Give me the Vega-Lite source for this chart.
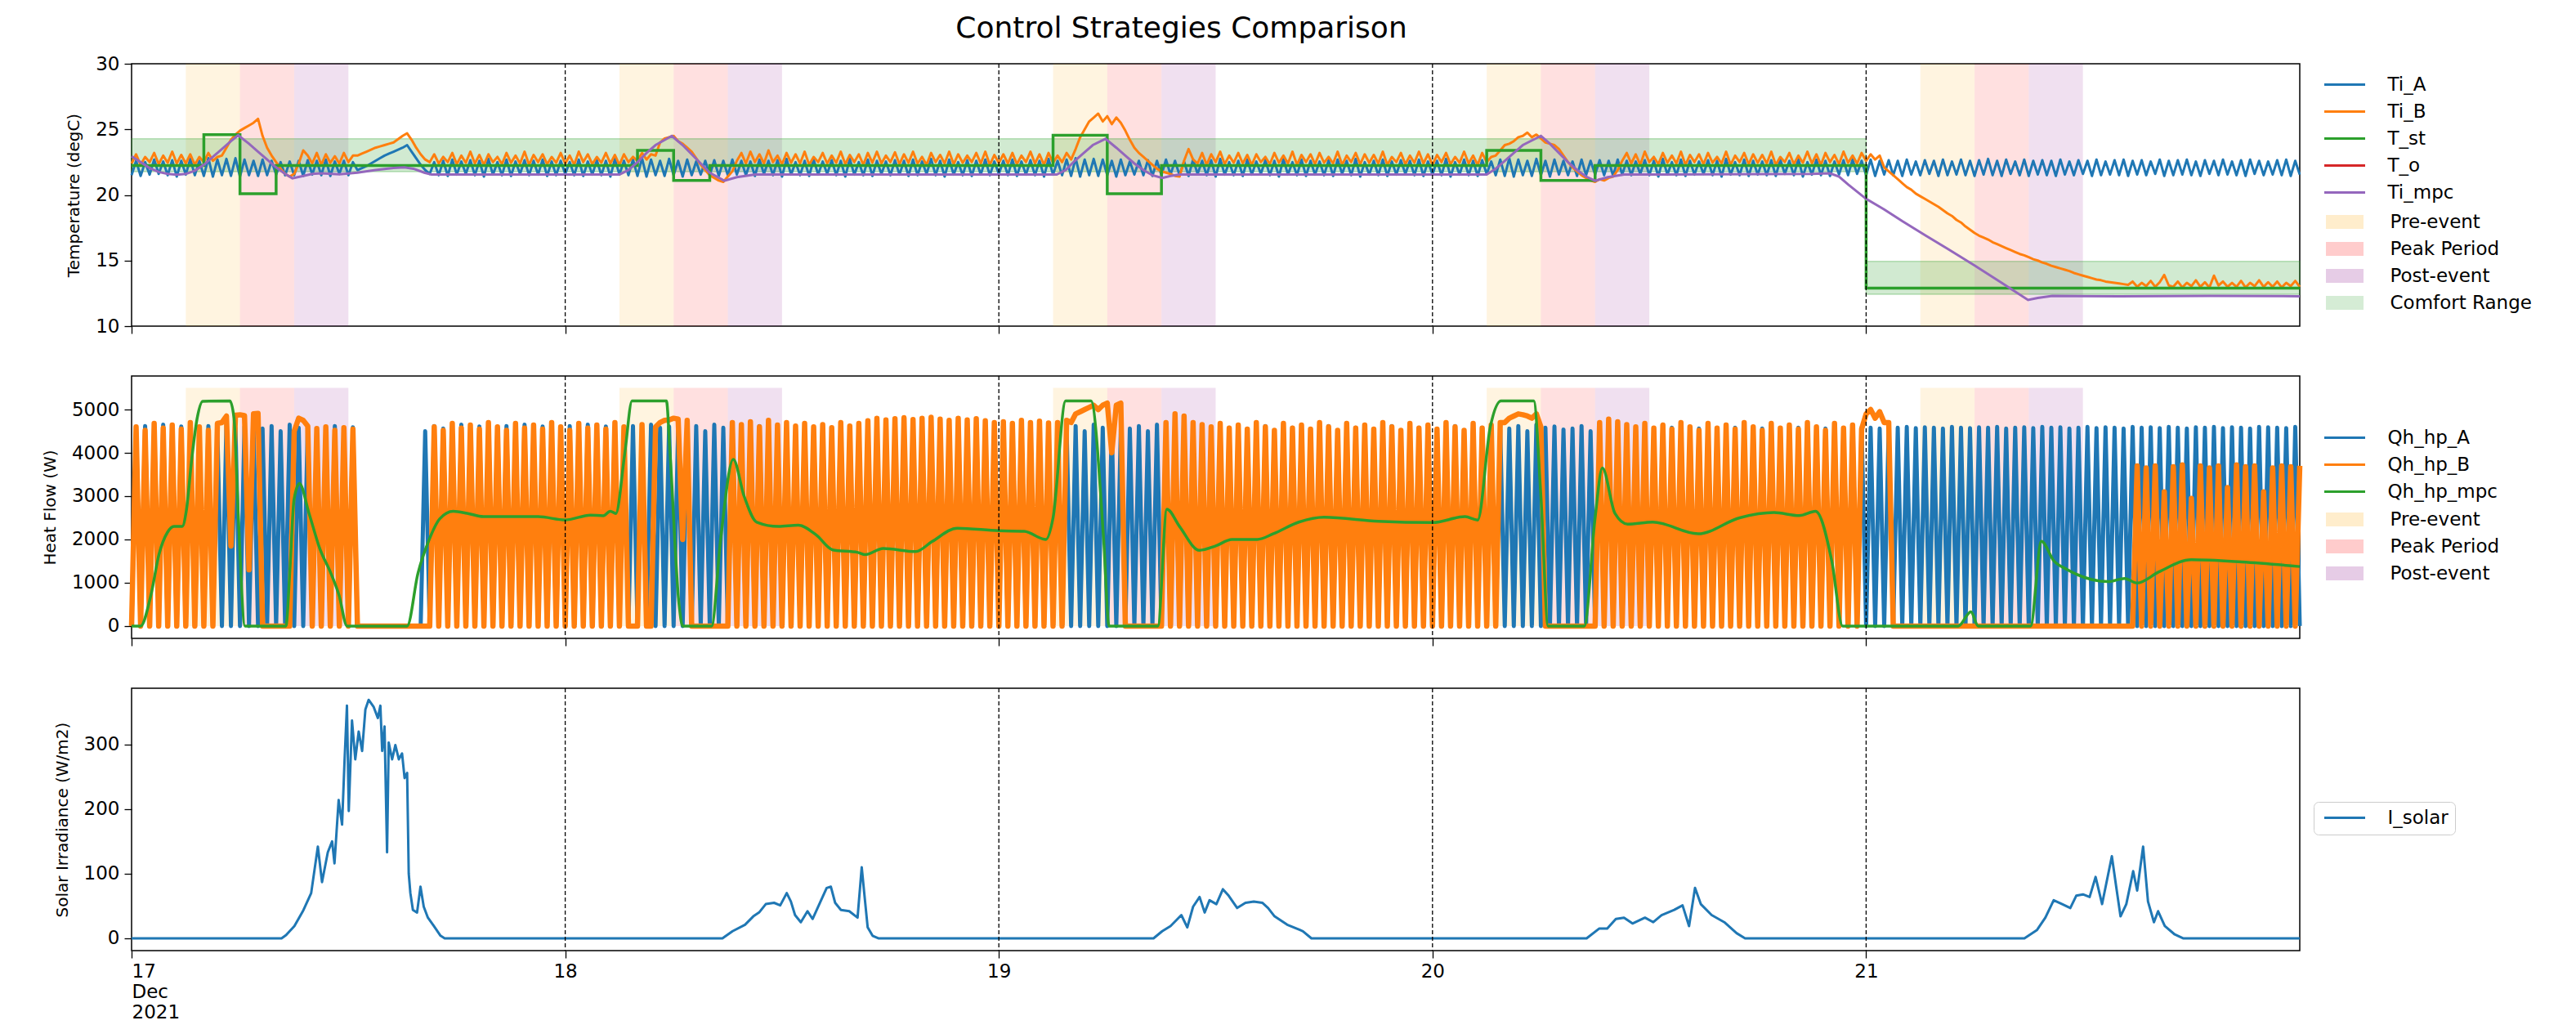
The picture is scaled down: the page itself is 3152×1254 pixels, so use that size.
{
"$schema":"https://vega.github.io/schema/vega-lite/v6.json",
"background":"white",
"padding":{"left":50,"top":16,"right":5,"bottom":5},
"spacing":61,
"bounds":"flush",
"resolve":{"scale":{"color":"independent","fill":"independent","stroke":"independent","x":"independent","y":"independent"},"legend":{"color":"independent","fill":"independent","stroke":"independent"}},
"config":{
"font":"DejaVu Sans",
"view":{"stroke":"black","strokeWidth":1.5},
"axis":{"grid":false,"domain":false,"tickColor":"black","tickSize":9,"tickWidth":1.3,"labelColor":"black","labelFont":"DejaVu Sans","labelFontSize":23,"labelPadding":6,"titleColor":"black","titleFont":"DejaVu Sans","titleFontSize":20,"titleFontWeight":"normal","titlePadding":16},
"legend":{"labelFont":"DejaVu Sans","labelFontSize":23,"labelColor":"black","labelLimit":500,"symbolSize":100,"symbolOffset":18.5,"labelOffset":41,"rowPadding":9,"padding":8}
},
"datasets":{
"days":[{"h":24},{"h":48},{"h":72},{"h":96}],
"ev":[{"s":"Pre-event","x0":3,"x1":6},{"s":"Peak Period","x0":6,"x1":9},{"s":"Post-event","x0":9,"x1":12},{"s":"Pre-event","x0":27,"x1":30},{"s":"Peak Period","x0":30,"x1":33},{"s":"Post-event","x0":33,"x1":36},{"s":"Pre-event","x0":51,"x1":54},{"s":"Peak Period","x0":54,"x1":57},{"s":"Post-event","x0":57,"x1":60},{"s":"Pre-event","x0":75,"x1":78},{"s":"Peak Period","x0":78,"x1":81},{"s":"Post-event","x0":81,"x1":84},{"s":"Pre-event","x0":99,"x1":102},{"s":"Peak Period","x0":102,"x1":105},{"s":"Post-event","x0":105,"x1":108}],
"cf":[{"x0":0,"x1":96,"lo":21.78,"hi":24.28},{"x0":96,"x1":120,"lo":12.43,"hi":14.93}],
"tst":[{"h":0,"v":22.25},{"h":4,"v":24.6},{"h":6,"v":20.1},{"h":8,"v":22.25},{"h":28,"v":23.4},{"h":30,"v":21.1},{"h":32,"v":22.25},{"h":51,"v":24.55},{"h":54,"v":20.1},{"h":57,"v":22.25},{"h":75,"v":23.4},{"h":78,"v":21.1},{"h":81,"v":22.25},{"h":96,"v":12.9},{"h":120,"v":12.9}],
"to":[{"h":0,"v":4.5},{"h":12,"v":6.5},{"h":24,"v":3.5},{"h":36,"v":5.5},{"h":48,"v":4},{"h":60,"v":6},{"h":72,"v":2.5},{"h":84,"v":4.5},{"h":96,"v":1.5},{"h":108,"v":3.5},{"h":120,"v":2}],
"mpc":[{"h":0,"v":22.95},{"h":0.5,"v":22.5},{"h":1,"v":22.05},{"h":1.5,"v":21.75},{"h":2,"v":21.6},{"h":2.5,"v":21.55},{"h":3,"v":21.6},{"h":3.5,"v":21.85},{"h":4,"v":22.3},{"h":4.5,"v":22.9},{"h":5,"v":23.5},{"h":5.5,"v":24.1},{"h":5.9,"v":24.55},{"h":6.5,"v":23.9},{"h":7,"v":23.3},{"h":7.5,"v":22.7},{"h":8,"v":22.1},{"h":8.5,"v":21.6},{"h":8.9,"v":21.27},{"h":9.5,"v":21.45},{"h":10,"v":21.6},{"h":10.5,"v":21.65},{"h":11.5,"v":21.58},{"h":12.5,"v":21.7},{"h":13.5,"v":21.9},{"h":14.5,"v":22.05},{"h":15.1,"v":22.1},{"h":15.6,"v":22},{"h":16.2,"v":21.7},{"h":16.6,"v":21.55},{"h":27,"v":21.55},{"h":27.5,"v":21.9},{"h":28,"v":22.5},{"h":28.5,"v":23.2},{"h":29,"v":23.8},{"h":29.9,"v":24.5},{"h":30.5,"v":23.8},{"h":31,"v":23.1},{"h":31.5,"v":22.4},{"h":32,"v":21.7},{"h":32.8,"v":21.08},{"h":33.5,"v":21.35},{"h":34.5,"v":21.55},{"h":51.2,"v":21.55},{"h":51.7,"v":21.9},{"h":52.2,"v":22.6},{"h":52.7,"v":23.2},{"h":53.2,"v":23.8},{"h":53.9,"v":24.28},{"h":54.5,"v":23.6},{"h":55,"v":23},{"h":55.5,"v":22.4},{"h":56,"v":21.9},{"h":56.5,"v":21.5},{"h":57.05,"v":21.3},{"h":57.5,"v":21.45},{"h":58,"v":21.55},{"h":75,"v":21.55},{"h":75.5,"v":22},{"h":76,"v":22.6},{"h":76.5,"v":23.2},{"h":77,"v":23.8},{"h":78,"v":24.5},{"h":78.5,"v":23.9},{"h":79,"v":23.2},{"h":79.5,"v":22.5},{"h":80,"v":21.9},{"h":80.5,"v":21.4},{"h":81,"v":21.08},{"h":81.7,"v":21.35},{"h":82.6,"v":21.55},{"h":93,"v":21.6},{"h":94,"v":21.65},{"h":94.5,"v":21.4},{"h":95,"v":20.8},{"h":96,"v":19.7},{"h":97,"v":18.9},{"h":98,"v":18},{"h":99.3,"v":16.9},{"h":100.5,"v":15.9},{"h":102,"v":14.62},{"h":103.5,"v":13.3},{"h":104.96,"v":12},{"h":105.5,"v":12.15},{"h":106.3,"v":12.3},{"h":110,"v":12.28},{"h":115,"v":12.3},{"h":120,"v":12.28}],
"mq":[{"h":0,"v":0},{"h":0.5,"v":0},{"h":1.07,"v":715},{"h":1.52,"v":1660},{"h":1.98,"v":2160},{"h":2.35,"v":2300},{"h":2.8,"v":2300},{"h":3.03,"v":2666},{"h":3.33,"v":3860},{"h":3.63,"v":4800},{"h":3.94,"v":5190},{"h":5.44,"v":5200},{"h":5.67,"v":4800},{"h":5.9,"v":2600},{"h":6.28,"v":0},{"h":8.54,"v":0},{"h":8.77,"v":1345},{"h":8.99,"v":2917},{"h":9.29,"v":3294},{"h":9.82,"v":2605},{"h":10.42,"v":1785},{"h":11.03,"v":1219},{"h":11.48,"v":715},{"h":11.93,"v":0},{"h":15.25,"v":0},{"h":15.85,"v":1219},{"h":16.45,"v":1974},{"h":17.06,"v":2477},{"h":17.8,"v":2650},{"h":18.57,"v":2605},{"h":19.47,"v":2526},{"h":22.5,"v":2526},{"h":24,"v":2450},{"h":25.4,"v":2563},{"h":26.1,"v":2545},{"h":26.5,"v":2650},{"h":26.8,"v":2600},{"h":27.3,"v":4000},{"h":27.7,"v":5200},{"h":29.6,"v":5200},{"h":29.8,"v":4000},{"h":30.3,"v":500},{"h":30.5,"v":0},{"h":32.1,"v":0},{"h":32.6,"v":2000},{"h":33.3,"v":3850},{"h":33.9,"v":3000},{"h":34.6,"v":2400},{"h":35.8,"v":2300},{"h":36.9,"v":2330},{"h":37.9,"v":2100},{"h":38.8,"v":1760},{"h":40.2,"v":1700},{"h":40.6,"v":1650},{"h":41.6,"v":1790},{"h":43.4,"v":1720},{"h":44.3,"v":1950},{"h":45.7,"v":2260},{"h":48,"v":2200},{"h":49.4,"v":2190},{"h":50.6,"v":2000},{"h":51,"v":2500},{"h":51.7,"v":5200},{"h":53.1,"v":5200},{"h":53.8,"v":2000},{"h":54.1,"v":0},{"h":56.8,"v":0},{"h":57.3,"v":2700},{"h":58,"v":2300},{"h":59.1,"v":1750},{"h":60,"v":1850},{"h":60.9,"v":2000},{"h":62.3,"v":2000},{"h":63.2,"v":2133},{"h":64.6,"v":2400},{"h":66,"v":2513},{"h":69,"v":2420},{"h":72,"v":2390},{"h":73.8,"v":2526},{"h":74.5,"v":2450},{"h":75.2,"v":4600},{"h":75.8,"v":5200},{"h":77.6,"v":5200},{"h":78,"v":3000},{"h":78.4,"v":0},{"h":80.4,"v":0},{"h":81,"v":2500},{"h":81.4,"v":3650},{"h":82.1,"v":2600},{"h":82.8,"v":2355},{"h":84.2,"v":2400},{"h":86.7,"v":2130},{"h":89,"v":2500},{"h":90.9,"v":2620},{"h":92.3,"v":2550},{"h":93.2,"v":2650},{"h":94.1,"v":1500},{"h":94.7,"v":0},{"h":101.1,"v":0},{"h":101.8,"v":330},{"h":102.2,"v":0},{"h":105.1,"v":0},{"h":105.7,"v":1956},{"h":106.4,"v":1500},{"h":107.1,"v":1310},{"h":109.4,"v":1025},{"h":110.3,"v":1100},{"h":111,"v":994},{"h":112.2,"v":1250},{"h":114,"v":1532},{"h":116.8,"v":1480},{"h":120,"v":1374}],
"sol":[{"h":0,"v":0},{"h":8.3,"v":0},{"h":8.55,"v":5},{"h":9.01,"v":19},{"h":9.48,"v":42},{"h":9.94,"v":70},{"h":10.31,"v":142},{"h":10.54,"v":87},{"h":10.86,"v":133},{"h":11.1,"v":150},{"h":11.23,"v":116},{"h":11.46,"v":214},{"h":11.65,"v":176},{"h":11.79,"v":277},{"h":11.92,"v":360},{"h":12.02,"v":197},{"h":12.2,"v":337},{"h":12.38,"v":277},{"h":12.57,"v":320},{"h":12.76,"v":290},{"h":12.94,"v":354},{"h":13.12,"v":369},{"h":13.4,"v":358},{"h":13.63,"v":341},{"h":13.77,"v":360},{"h":13.87,"v":290},{"h":14,"v":328},{"h":14.14,"v":133},{"h":14.23,"v":303},{"h":14.42,"v":277},{"h":14.6,"v":299},{"h":14.79,"v":277},{"h":14.97,"v":286},{"h":15.11,"v":248},{"h":15.25,"v":256},{"h":15.34,"v":100},{"h":15.43,"v":70},{"h":15.57,"v":44},{"h":15.8,"v":40},{"h":15.99,"v":80},{"h":16.17,"v":49},{"h":16.4,"v":32},{"h":16.73,"v":19},{"h":17.1,"v":4},{"h":17.33,"v":0},{"h":32.7,"v":0},{"h":33.26,"v":11},{"h":33.95,"v":21},{"h":34.41,"v":34},{"h":34.73,"v":40},{"h":35.1,"v":53},{"h":35.56,"v":55},{"h":35.9,"v":51},{"h":36.26,"v":70},{"h":36.49,"v":57},{"h":36.72,"v":36},{"h":37.04,"v":25},{"h":37.41,"v":42},{"h":37.69,"v":30},{"h":38.1,"v":55},{"h":38.47,"v":78},{"h":38.7,"v":80},{"h":38.94,"v":55},{"h":39.26,"v":44},{"h":39.72,"v":42},{"h":40.18,"v":32},{"h":40.41,"v":110},{"h":40.55,"v":70},{"h":40.74,"v":17},{"h":41.01,"v":4},{"h":41.33,"v":0},{"h":56.56,"v":0},{"h":57.04,"v":11},{"h":57.5,"v":19},{"h":58.1,"v":36},{"h":58.43,"v":17},{"h":58.75,"v":49},{"h":59.11,"v":64},{"h":59.39,"v":40},{"h":59.66,"v":59},{"h":60.04,"v":53},{"h":60.4,"v":76},{"h":60.72,"v":66},{"h":61.19,"v":47},{"h":61.65,"v":55},{"h":62.11,"v":57},{"h":62.58,"v":55},{"h":62.9,"v":47},{"h":63.26,"v":34},{"h":63.96,"v":21},{"h":64.66,"v":13},{"h":64.83,"v":11},{"h":65.3,"v":0},{"h":80.53,"v":0},{"h":81.22,"v":15},{"h":81.67,"v":15},{"h":82.15,"v":30},{"h":82.6,"v":32},{"h":83.07,"v":23},{"h":83.76,"v":32},{"h":84.22,"v":25},{"h":84.68,"v":36},{"h":85.38,"v":44},{"h":85.84,"v":51},{"h":86.2,"v":19},{"h":86.53,"v":78},{"h":86.85,"v":53},{"h":87.45,"v":36},{"h":88.15,"v":25},{"h":88.83,"v":8},{"h":89.3,"v":0},{"h":104.76,"v":0},{"h":105.46,"v":13},{"h":105.92,"v":32},{"h":106.38,"v":59},{"h":106.85,"v":53},{"h":107.3,"v":47},{"h":107.63,"v":66},{"h":108,"v":68},{"h":108.37,"v":64},{"h":108.7,"v":95},{"h":109.06,"v":53},{"h":109.6,"v":127},{"h":109.85,"v":78},{"h":110.08,"v":34},{"h":110.4,"v":53},{"h":110.78,"v":104},{"h":111,"v":74},{"h":111.33,"v":142},{"h":111.6,"v":57},{"h":111.93,"v":25},{"h":112.16,"v":42},{"h":112.53,"v":19},{"h":113.08,"v":6},{"h":113.54,"v":0},{"h":120,"v":0}],
"main":[
{"h":0,"a":21.5,"b":22.4,"qa":0,"qb":0},{"h":0.25,"a":22.6,"b":23.1,"qa":4560,"qb":4600},{"h":0.5,"a":21.45,"b":22.3,"qa":0,"qb":0},{"h":0.75,"a":22.5,"b":22.9,"qa":4620,"qb":4520},{"h":1,"a":21.55,"b":22.5,"qa":0,"qb":0},{"h":1.25,"a":22.7,"b":23.2,"qa":4500,"qb":4680},{"h":1.5,"a":21.6,"b":22.35,"qa":0,"qb":0},{"h":1.75,"a":22.55,"b":23,"qa":4650,"qb":4570},{"h":2,"a":21.5,"b":22.45,"qa":0,"qb":0},{"h":2.25,"a":22.65,"b":23.3,"qa":4580,"qb":4640},{"h":2.5,"a":21.4,"b":22.4,"qa":0,"qb":0},{"h":2.75,"a":22.6,"b":23.05,"qa":4610,"qb":4550},
{"h":3,"a":21.55,"b":22.4,"qa":0,"qb":0},{"h":3.25,"a":22.75,"b":23.1,"qa":4540,"qb":4700},{"h":3.5,"a":21.5,"b":22.3,"qa":0,"qb":0},{"h":3.75,"a":22.6,"b":22.9,"qa":4560,"qb":4600},{"h":4,"a":21.45,"b":22.5,"qa":0,"qb":0},{"h":4.25,"a":22.8,"b":23.2,"qa":4620,"qb":4520},{"h":4.5,"a":21.4,"b":22.6,"qa":0,"qb":0},{"h":4.75,"a":22.7,"b":22.9,"qa":4500,"qb":4680},{"h":5,"a":21.5,"b":23,"qa":0,"qb":4700},{"h":5.25,"a":22.75,"b":23.6,"qa":4650,"qb":4850},{"h":5.5,"a":21.45,"b":24.2,"qa":0,"qb":1850},{"h":5.75,"a":22.8,"b":24.6,"qa":4580,"qb":4870},
{"h":6,"a":21.4,"b":24.9,"qa":0,"qb":4880},{"h":6.25,"a":22.7,"b":25.1,"qa":4610,"qb":4860},{"h":6.5,"a":21.5,"b":25.3,"qa":0,"qb":1300},{"h":6.75,"a":22.6,"b":25.5,"qa":4540,"qb":4900},{"h":7,"a":21.45,"b":25.8,"qa":0,"qb":4910},{"h":7.25,"a":22.7,"b":24.5,"qa":4560,"qb":0},{"h":7.5,"a":21.5,"b":23.6,"qa":0,"qb":0},{"h":7.75,"a":22.6,"b":23,"qa":4620,"qb":0},{"h":8,"a":21.55,"b":22.5,"qa":0,"qb":0},{"h":8.25,"a":22.5,"b":22,"qa":4500,"qb":0},{"h":8.5,"a":21.5,"b":21.6,"qa":0,"qb":0},{"h":8.75,"a":22.55,"b":21.4,"qa":4650,"qb":0},
{"h":9,"a":21.5,"b":21.6,"qa":0,"qb":4500},{"h":9.25,"a":22.6,"b":22.4,"qa":4580,"qb":4800},{"h":9.5,"a":21.45,"b":23.4,"qa":0,"qb":4750},{"h":9.75,"a":22.65,"b":23,"qa":4610,"qb":4620},{"h":10,"a":21.55,"b":22.4,"qa":0,"qb":0},{"h":10.25,"a":22.6,"b":23.2,"qa":4540,"qb":4560},{"h":10.5,"a":21.5,"b":22.3,"qa":0,"qb":0},{"h":10.75,"a":22.7,"b":23.1,"qa":4560,"qb":4600},{"h":11,"a":21.45,"b":22.45,"qa":0,"qb":0},{"h":11.25,"a":22.55,"b":22.95,"qa":4620,"qb":4520},{"h":11.5,"a":21.6,"b":22.4,"qa":0,"qb":0},{"h":11.75,"a":22.6,"b":23.2,"qa":4500,"qb":4580},
{"h":12,"a":21.5,"b":22.5,"qa":0,"qb":0},{"h":12.25,"a":22.5,"b":23,"qa":4590,"qb":4550},{"h":12.5,"a":21.9,"b":23,"qa":0,"qb":0},{"h":12.75,"a":22.05,"b":23.15,"qa":0,"qb":0},{"h":13,"a":22.2,"b":23.3,"qa":0,"qb":0},{"h":13.25,"a":22.4,"b":23.45,"qa":0,"qb":0},{"h":13.5,"a":22.6,"b":23.6,"qa":0,"qb":0},{"h":13.75,"a":22.8,"b":23.7,"qa":0,"qb":0},{"h":14,"a":23,"b":23.8,"qa":0,"qb":0},{"h":14.25,"a":23.15,"b":23.9,"qa":0,"qb":0},{"h":14.5,"a":23.3,"b":24,"qa":0,"qb":0},{"h":14.75,"a":23.45,"b":24.25,"qa":0,"qb":0},
{"h":15,"a":23.6,"b":24.5,"qa":0,"qb":0},{"h":15.25,"a":23.8,"b":24.7,"qa":0,"qb":0},{"h":15.5,"a":23.3,"b":24.2,"qa":0,"qb":0},{"h":15.75,"a":22.8,"b":23.6,"qa":0,"qb":0},{"h":16,"a":22.3,"b":23.1,"qa":0,"qb":0},{"h":16.25,"a":21.9,"b":22.7,"qa":4500,"qb":0},{"h":16.5,"a":21.6,"b":22.5,"qa":0,"qb":0},{"h":16.75,"a":22.5,"b":23.1,"qa":4620,"qb":4600},{"h":17,"a":21.5,"b":22.4,"qa":0,"qb":0},{"h":17.25,"a":22.6,"b":22.9,"qa":4560,"qb":4520},{"h":17.5,"a":21.45,"b":22.5,"qa":0,"qb":0},{"h":17.75,"a":22.7,"b":23.2,"qa":4500,"qb":4680},
{"h":18,"a":21.55,"b":22.35,"qa":0,"qb":0},{"h":18.25,"a":22.55,"b":23,"qa":4650,"qb":4570},{"h":18.5,"a":21.6,"b":22.45,"qa":0,"qb":0},{"h":18.75,"a":22.65,"b":23.3,"qa":4580,"qb":4640},{"h":19,"a":21.5,"b":22.4,"qa":0,"qb":0},{"h":19.25,"a":22.6,"b":23.05,"qa":4610,"qb":4550},{"h":19.5,"a":21.4,"b":22.3,"qa":0,"qb":0},{"h":19.75,"a":22.75,"b":23.1,"qa":4540,"qb":4700},{"h":20,"a":21.55,"b":22.5,"qa":0,"qb":0},{"h":20.25,"a":22.5,"b":22.9,"qa":4560,"qb":4600},{"h":20.5,"a":21.5,"b":22.35,"qa":0,"qb":0},{"h":20.75,"a":22.7,"b":23.2,"qa":4620,"qb":4520},
{"h":21,"a":21.45,"b":22.45,"qa":0,"qb":0},{"h":21.25,"a":22.55,"b":23,"qa":4500,"qb":4680},{"h":21.5,"a":21.6,"b":22.4,"qa":0,"qb":0},{"h":21.75,"a":22.65,"b":23.3,"qa":4650,"qb":4570},{"h":22,"a":21.5,"b":22.3,"qa":0,"qb":0},{"h":22.25,"a":22.6,"b":23.05,"qa":4580,"qb":4640},{"h":22.5,"a":21.55,"b":22.5,"qa":0,"qb":0},{"h":22.75,"a":22.7,"b":23.1,"qa":4610,"qb":4550},{"h":23,"a":21.45,"b":22.35,"qa":0,"qb":0},{"h":23.25,"a":22.55,"b":22.9,"qa":4540,"qb":4700},{"h":23.5,"a":21.5,"b":22.45,"qa":0,"qb":0},{"h":23.75,"a":22.6,"b":23.2,"qa":4560,"qb":4600},
{"h":24,"a":21.6,"b":22.4,"qa":0,"qb":0},{"h":24.25,"a":22.5,"b":23,"qa":4620,"qb":4520},{"h":24.5,"a":21.5,"b":22.3,"qa":0,"qb":0},{"h":24.75,"a":22.7,"b":23.3,"qa":4500,"qb":4680},{"h":25,"a":21.45,"b":22.5,"qa":0,"qb":0},{"h":25.25,"a":22.55,"b":23.1,"qa":4650,"qb":4570},{"h":25.5,"a":21.55,"b":22.35,"qa":0,"qb":0},{"h":25.75,"a":22.65,"b":22.9,"qa":4580,"qb":4640},{"h":26,"a":21.5,"b":22.45,"qa":0,"qb":0},{"h":26.25,"a":22.6,"b":23.2,"qa":4610,"qb":4550},{"h":26.5,"a":21.4,"b":22.4,"qa":0,"qb":0},{"h":26.75,"a":22.75,"b":23.05,"qa":4540,"qb":4700},
{"h":27,"a":21.55,"b":22.3,"qa":0,"qb":0},{"h":27.25,"a":22.6,"b":23.1,"qa":4560,"qb":4600},{"h":27.5,"a":21.5,"b":22.5,"qa":0,"qb":0},{"h":27.75,"a":22.7,"b":22.9,"qa":4620,"qb":0},{"h":28,"a":21.45,"b":22.6,"qa":0,"qb":0},{"h":28.25,"a":22.8,"b":23.2,"qa":4500,"qb":4650},{"h":28.5,"a":21.4,"b":22.7,"qa":0,"qb":0},{"h":28.75,"a":22.7,"b":23.1,"qa":4650,"qb":0},{"h":29,"a":21.5,"b":23,"qa":0,"qb":4600},{"h":29.25,"a":22.6,"b":24,"qa":4580,"qb":4700},{"h":29.5,"a":21.45,"b":24.3,"qa":0,"qb":4750},{"h":29.75,"a":22.75,"b":24.4,"qa":4610,"qb":4760},
{"h":30,"a":21.5,"b":24.5,"qa":0,"qb":4800},{"h":30.25,"a":22.6,"b":24.1,"qa":4540,"qb":4780},{"h":30.5,"a":21.4,"b":23.9,"qa":0,"qb":2000},{"h":30.75,"a":22.7,"b":23.6,"qa":4560,"qb":4750},{"h":31,"a":21.5,"b":23.3,"qa":0,"qb":0},{"h":31.25,"a":22.55,"b":22.8,"qa":4620,"qb":0},{"h":31.5,"a":21.55,"b":22.3,"qa":0,"qb":0},{"h":31.75,"a":22.6,"b":21.9,"qa":4500,"qb":0},{"h":32,"a":21.5,"b":21.5,"qa":0,"qb":0},{"h":32.25,"a":22.65,"b":21.3,"qa":4650,"qb":0},{"h":32.5,"a":21.45,"b":21.1,"qa":0,"qb":0},{"h":32.75,"a":22.6,"b":21,"qa":4580,"qb":0},
{"h":33,"a":21.5,"b":21.4,"qa":0,"qb":0},{"h":33.25,"a":22.7,"b":21.8,"qa":4610,"qb":4700},{"h":33.5,"a":21.55,"b":22.6,"qa":0,"qb":0},{"h":33.75,"a":22.6,"b":23.2,"qa":4540,"qb":4650},{"h":34,"a":21.5,"b":22.4,"qa":0,"qb":0},{"h":34.25,"a":22.55,"b":23.3,"qa":4560,"qb":4720},{"h":34.5,"a":21.45,"b":22.5,"qa":0,"qb":0},{"h":34.75,"a":22.7,"b":23.1,"qa":4620,"qb":4600},{"h":35,"a":21.6,"b":22.4,"qa":0,"qb":0},{"h":35.25,"a":22.6,"b":23.4,"qa":4500,"qb":4750},{"h":35.5,"a":21.5,"b":22.5,"qa":0,"qb":0},{"h":35.75,"a":22.65,"b":23,"qa":4650,"qb":4640},
{"h":36,"a":21.4,"b":22.35,"qa":0,"qb":0},{"h":36.25,"a":22.75,"b":23.2,"qa":4580,"qb":4700},{"h":36.5,"a":21.55,"b":22.45,"qa":0,"qb":0},{"h":36.75,"a":22.5,"b":23.1,"qa":4610,"qb":4620},{"h":37,"a":21.5,"b":22.4,"qa":0,"qb":0},{"h":37.25,"a":22.6,"b":23.3,"qa":4540,"qb":4680},{"h":37.5,"a":21.45,"b":22.3,"qa":0,"qb":0},{"h":37.75,"a":22.7,"b":22.9,"qa":4560,"qb":4600},{"h":38,"a":21.55,"b":22.5,"qa":0,"qb":0},{"h":38.25,"a":22.55,"b":23.2,"qa":4620,"qb":4650},{"h":38.5,"a":21.6,"b":22.4,"qa":0,"qb":0},{"h":38.75,"a":22.65,"b":23,"qa":4500,"qb":4580},
{"h":39,"a":21.5,"b":22.45,"qa":0,"qb":0},{"h":39.25,"a":22.6,"b":23.3,"qa":4650,"qb":4700},{"h":39.5,"a":21.4,"b":22.35,"qa":0,"qb":0},{"h":39.75,"a":22.75,"b":23.05,"qa":4580,"qb":4620},{"h":40,"a":21.55,"b":22.5,"qa":0,"qb":0},{"h":40.25,"a":22.5,"b":23.1,"qa":4610,"qb":4680},{"h":40.5,"a":21.5,"b":22.3,"qa":0,"qb":0},{"h":40.75,"a":22.7,"b":23.2,"qa":4540,"qb":4740},{"h":41,"a":21.45,"b":22.45,"qa":0,"qb":0},{"h":41.25,"a":22.6,"b":23.3,"qa":4560,"qb":4800},{"h":41.5,"a":21.6,"b":22.4,"qa":0,"qb":0},{"h":41.75,"a":22.55,"b":23,"qa":4620,"qb":4760},
{"h":42,"a":21.5,"b":22.5,"qa":0,"qb":0},{"h":42.25,"a":22.65,"b":23.25,"qa":4500,"qb":4790},{"h":42.5,"a":21.55,"b":22.35,"qa":0,"qb":0},{"h":42.75,"a":22.6,"b":23.1,"qa":4650,"qb":4810},{"h":43,"a":21.45,"b":22.45,"qa":0,"qb":0},{"h":43.25,"a":22.7,"b":23.3,"qa":4580,"qb":4770},{"h":43.5,"a":21.5,"b":22.4,"qa":0,"qb":0},{"h":43.75,"a":22.55,"b":22.9,"qa":4610,"qb":4800},{"h":44,"a":21.6,"b":22.3,"qa":0,"qb":0},{"h":44.25,"a":22.75,"b":23.2,"qa":4540,"qb":4820},{"h":44.5,"a":21.5,"b":22.5,"qa":0,"qb":0},{"h":44.75,"a":22.6,"b":23.05,"qa":4560,"qb":4780},
{"h":45,"a":21.4,"b":22.4,"qa":0,"qb":0},{"h":45.25,"a":22.7,"b":23.3,"qa":4620,"qb":4750},{"h":45.5,"a":21.55,"b":22.35,"qa":0,"qb":0},{"h":45.75,"a":22.5,"b":23.1,"qa":4500,"qb":4800},{"h":46,"a":21.5,"b":22.45,"qa":0,"qb":0},{"h":46.25,"a":22.65,"b":23,"qa":4650,"qb":4760},{"h":46.5,"a":21.45,"b":22.5,"qa":0,"qb":0},{"h":46.75,"a":22.6,"b":23.2,"qa":4580,"qb":4790},{"h":47,"a":21.55,"b":22.4,"qa":0,"qb":0},{"h":47.25,"a":22.7,"b":23.3,"qa":4610,"qb":4740},{"h":47.5,"a":21.5,"b":22.3,"qa":0,"qb":0},{"h":47.75,"a":22.55,"b":23.05,"qa":4540,"qb":4700},
{"h":48,"a":21.6,"b":22.45,"qa":0,"qb":0},{"h":48.25,"a":22.6,"b":23.1,"qa":4560,"qb":4720},{"h":48.5,"a":21.5,"b":22.4,"qa":0,"qb":0},{"h":48.75,"a":22.7,"b":23.2,"qa":4620,"qb":4680},{"h":49,"a":21.45,"b":22.35,"qa":0,"qb":0},{"h":49.25,"a":22.55,"b":23,"qa":4500,"qb":4750},{"h":49.5,"a":21.55,"b":22.5,"qa":0,"qb":0},{"h":49.75,"a":22.65,"b":23.3,"qa":4650,"qb":4700},{"h":50,"a":21.5,"b":22.4,"qa":0,"qb":0},{"h":50.25,"a":22.6,"b":23.1,"qa":4580,"qb":4730},{"h":50.5,"a":21.4,"b":22.3,"qa":0,"qb":0},{"h":50.75,"a":22.75,"b":23.2,"qa":4610,"qb":4690},
{"h":51,"a":21.55,"b":22.45,"qa":0,"qb":0},{"h":51.25,"a":22.6,"b":23,"qa":4540,"qb":4700},{"h":51.5,"a":21.5,"b":22.5,"qa":0,"qb":0},{"h":51.75,"a":22.7,"b":23.2,"qa":4560,"qb":4750},{"h":52,"a":21.45,"b":22.7,"qa":0,"qb":4700},{"h":52.25,"a":22.8,"b":23.5,"qa":4620,"qb":4900},{"h":52.5,"a":21.4,"b":24.4,"qa":0,"qb":4950},{"h":52.75,"a":22.7,"b":25,"qa":4500,"qb":5000},{"h":53,"a":21.5,"b":25.6,"qa":0,"qb":5050},{"h":53.25,"a":22.75,"b":25.9,"qa":4650,"qb":5100},{"h":53.5,"a":21.45,"b":26.2,"qa":0,"qb":5000},{"h":53.75,"a":22.7,"b":25.6,"qa":4580,"qb":5100},
{"h":54,"a":21.5,"b":26,"qa":0,"qb":5150},{"h":54.25,"a":22.6,"b":25.4,"qa":4610,"qb":4000},{"h":54.5,"a":21.4,"b":25.9,"qa":0,"qb":5100},{"h":54.75,"a":22.7,"b":25.5,"qa":4540,"qb":5150},{"h":55,"a":21.5,"b":24.9,"qa":0,"qb":0},{"h":55.25,"a":22.55,"b":24.2,"qa":4560,"qb":0},{"h":55.5,"a":21.55,"b":23.6,"qa":0,"qb":0},{"h":55.75,"a":22.6,"b":23.2,"qa":4620,"qb":0},{"h":56,"a":21.5,"b":22.9,"qa":0,"qb":0},{"h":56.25,"a":22.65,"b":22.6,"qa":4500,"qb":0},{"h":56.5,"a":21.45,"b":22.3,"qa":0,"qb":0},{"h":56.75,"a":22.6,"b":22,"qa":4650,"qb":0},
{"h":57,"a":21.5,"b":21.8,"qa":0,"qb":0},{"h":57.25,"a":22.7,"b":21.7,"qa":4580,"qb":4700},{"h":57.5,"a":21.55,"b":21.6,"qa":0,"qb":0},{"h":57.75,"a":22.6,"b":21.45,"qa":4610,"qb":4900},{"h":58,"a":21.5,"b":21.4,"qa":0,"qb":0},{"h":58.25,"a":22.55,"b":22.6,"qa":4540,"qb":4850},{"h":58.5,"a":21.45,"b":23.5,"qa":0,"qb":0},{"h":58.75,"a":22.7,"b":22.7,"qa":4560,"qb":4700},{"h":59,"a":21.6,"b":22.4,"qa":0,"qb":0},{"h":59.25,"a":22.6,"b":23.2,"qa":4620,"qb":4650},{"h":59.5,"a":21.5,"b":22.3,"qa":0,"qb":0},{"h":59.75,"a":22.65,"b":23.1,"qa":4500,"qb":4600},
{"h":60,"a":21.4,"b":22.5,"qa":0,"qb":0},{"h":60.25,"a":22.75,"b":23.3,"qa":4650,"qb":4680},{"h":60.5,"a":21.55,"b":22.35,"qa":0,"qb":0},{"h":60.75,"a":22.5,"b":23,"qa":4580,"qb":4570},{"h":61,"a":21.5,"b":22.45,"qa":0,"qb":0},{"h":61.25,"a":22.6,"b":23.2,"qa":4610,"qb":4640},{"h":61.5,"a":21.45,"b":22.4,"qa":0,"qb":0},{"h":61.75,"a":22.7,"b":23.05,"qa":4540,"qb":4550},{"h":62,"a":21.55,"b":22.3,"qa":0,"qb":0},{"h":62.25,"a":22.55,"b":23.1,"qa":4560,"qb":4700},{"h":62.5,"a":21.6,"b":22.5,"qa":0,"qb":0},{"h":62.75,"a":22.65,"b":22.9,"qa":4620,"qb":4600},
{"h":63,"a":21.5,"b":22.35,"qa":0,"qb":0},{"h":63.25,"a":22.6,"b":23.2,"qa":4500,"qb":4520},{"h":63.5,"a":21.4,"b":22.45,"qa":0,"qb":0},{"h":63.75,"a":22.75,"b":23,"qa":4650,"qb":4680},{"h":64,"a":21.55,"b":22.4,"qa":0,"qb":0},{"h":64.25,"a":22.5,"b":23.3,"qa":4580,"qb":4570},{"h":64.5,"a":21.5,"b":22.3,"qa":0,"qb":0},{"h":64.75,"a":22.7,"b":23.05,"qa":4610,"qb":4640},{"h":65,"a":21.45,"b":22.5,"qa":0,"qb":0},{"h":65.25,"a":22.6,"b":23.1,"qa":4540,"qb":4550},{"h":65.5,"a":21.55,"b":22.35,"qa":0,"qb":0},{"h":65.75,"a":22.55,"b":23.2,"qa":4560,"qb":4700},
{"h":66,"a":21.5,"b":22.45,"qa":0,"qb":0},{"h":66.25,"a":22.65,"b":22.9,"qa":4620,"qb":4600},{"h":66.5,"a":21.45,"b":22.4,"qa":0,"qb":0},{"h":66.75,"a":22.7,"b":23.3,"qa":4500,"qb":4520},{"h":67,"a":21.6,"b":22.3,"qa":0,"qb":0},{"h":67.25,"a":22.6,"b":23,"qa":4650,"qb":4680},{"h":67.5,"a":21.5,"b":22.5,"qa":0,"qb":0},{"h":67.75,"a":22.75,"b":23.2,"qa":4580,"qb":4570},{"h":68,"a":21.4,"b":22.35,"qa":0,"qb":0},{"h":68.25,"a":22.5,"b":23.1,"qa":4610,"qb":4640},{"h":68.5,"a":21.55,"b":22.45,"qa":0,"qb":0},{"h":68.75,"a":22.6,"b":23.05,"qa":4540,"qb":4550},
{"h":69,"a":21.5,"b":22.4,"qa":0,"qb":0},{"h":69.25,"a":22.7,"b":23.3,"qa":4560,"qb":4700},{"h":69.5,"a":21.45,"b":22.3,"qa":0,"qb":0},{"h":69.75,"a":22.55,"b":22.9,"qa":4620,"qb":4600},{"h":70,"a":21.55,"b":22.5,"qa":0,"qb":0},{"h":70.25,"a":22.65,"b":23.2,"qa":4500,"qb":4520},{"h":70.5,"a":21.6,"b":22.35,"qa":0,"qb":0},{"h":70.75,"a":22.6,"b":23,"qa":4650,"qb":4680},{"h":71,"a":21.5,"b":22.45,"qa":0,"qb":0},{"h":71.25,"a":22.7,"b":23.3,"qa":4580,"qb":4570},{"h":71.5,"a":21.45,"b":22.4,"qa":0,"qb":0},{"h":71.75,"a":22.55,"b":23.1,"qa":4610,"qb":4640},
{"h":72,"a":21.55,"b":22.3,"qa":0,"qb":0},{"h":72.25,"a":22.6,"b":23.05,"qa":4540,"qb":4550},{"h":72.5,"a":21.5,"b":22.5,"qa":0,"qb":0},{"h":72.75,"a":22.75,"b":23.2,"qa":4560,"qb":4700},{"h":73,"a":21.4,"b":22.35,"qa":0,"qb":0},{"h":73.25,"a":22.5,"b":22.9,"qa":4620,"qb":4600},{"h":73.5,"a":21.55,"b":22.45,"qa":0,"qb":0},{"h":73.75,"a":22.7,"b":23.3,"qa":4500,"qb":4520},{"h":74,"a":21.5,"b":22.4,"qa":0,"qb":0},{"h":74.25,"a":22.6,"b":23,"qa":4650,"qb":4680},{"h":74.5,"a":21.45,"b":22.3,"qa":0,"qb":0},{"h":74.75,"a":22.65,"b":23.2,"qa":4580,"qb":4570},
{"h":75,"a":21.6,"b":22.5,"qa":0,"qb":0},{"h":75.25,"a":22.55,"b":22.9,"qa":4610,"qb":4640},{"h":75.5,"a":21.5,"b":23,"qa":0,"qb":0},{"h":75.75,"a":22.7,"b":23.4,"qa":4540,"qb":4700},{"h":76,"a":21.45,"b":23.8,"qa":0,"qb":4700},{"h":76.25,"a":22.8,"b":23.9,"qa":4560,"qb":4800},{"h":76.5,"a":21.4,"b":24.1,"qa":0,"qb":4850},{"h":76.75,"a":22.7,"b":24.4,"qa":4620,"qb":4900},{"h":77,"a":21.5,"b":24.5,"qa":0,"qb":4880},{"h":77.25,"a":22.6,"b":24.75,"qa":4500,"qb":4850},{"h":77.5,"a":21.45,"b":24.4,"qa":0,"qb":4800},{"h":77.75,"a":22.75,"b":24.6,"qa":4650,"qb":4900},
{"h":78,"a":21.5,"b":24.3,"qa":0,"qb":4600},{"h":78.25,"a":22.6,"b":24,"qa":4580,"qb":0},{"h":78.5,"a":21.4,"b":23.9,"qa":0,"qb":0},{"h":78.75,"a":22.7,"b":23.8,"qa":4610,"qb":0},{"h":79,"a":21.55,"b":23.5,"qa":0,"qb":0},{"h":79.25,"a":22.6,"b":23,"qa":4540,"qb":0},{"h":79.5,"a":21.5,"b":22.5,"qa":0,"qb":0},{"h":79.75,"a":22.55,"b":22.1,"qa":4560,"qb":0},{"h":80,"a":21.45,"b":21.8,"qa":0,"qb":0},{"h":80.25,"a":22.7,"b":21.5,"qa":4620,"qb":0},{"h":80.5,"a":21.5,"b":21.3,"qa":0,"qb":0},{"h":80.75,"a":22.6,"b":21.1,"qa":4500,"qb":0},
{"h":81,"a":21.55,"b":21,"qa":0,"qb":0},{"h":81.25,"a":22.65,"b":21.2,"qa":4650,"qb":4700},{"h":81.5,"a":21.5,"b":21.1,"qa":0,"qb":0},{"h":81.75,"a":22.6,"b":21.3,"qa":4580,"qb":4780},{"h":82,"a":21.45,"b":21.4,"qa":0,"qb":0},{"h":82.25,"a":22.7,"b":21.9,"qa":4610,"qb":4720},{"h":82.5,"a":21.55,"b":22.6,"qa":0,"qb":0},{"h":82.75,"a":22.6,"b":23.2,"qa":4540,"qb":4650},{"h":83,"a":21.5,"b":22.4,"qa":0,"qb":0},{"h":83.25,"a":22.55,"b":23.1,"qa":4560,"qb":4600},{"h":83.5,"a":21.6,"b":22.3,"qa":0,"qb":0},{"h":83.75,"a":22.65,"b":23.3,"qa":4620,"qb":4680},
{"h":84,"a":21.5,"b":22.5,"qa":0,"qb":0},{"h":84.25,"a":22.6,"b":22.9,"qa":4500,"qb":4570},{"h":84.5,"a":21.4,"b":22.35,"qa":0,"qb":0},{"h":84.75,"a":22.75,"b":23.2,"qa":4650,"qb":4640},{"h":85,"a":21.55,"b":22.45,"qa":0,"qb":0},{"h":85.25,"a":22.5,"b":23,"qa":4580,"qb":4550},{"h":85.5,"a":21.5,"b":22.4,"qa":0,"qb":0},{"h":85.75,"a":22.7,"b":23.3,"qa":4610,"qb":4700},{"h":86,"a":21.45,"b":22.3,"qa":0,"qb":0},{"h":86.25,"a":22.6,"b":23.05,"qa":4540,"qb":4600},{"h":86.5,"a":21.55,"b":22.5,"qa":0,"qb":0},{"h":86.75,"a":22.55,"b":23.1,"qa":4560,"qb":4520},
{"h":87,"a":21.6,"b":22.35,"qa":0,"qb":0},{"h":87.25,"a":22.65,"b":23.2,"qa":4620,"qb":4680},{"h":87.5,"a":21.5,"b":22.45,"qa":0,"qb":0},{"h":87.75,"a":22.6,"b":22.9,"qa":4500,"qb":4570},{"h":88,"a":21.4,"b":22.4,"qa":0,"qb":0},{"h":88.25,"a":22.75,"b":23.3,"qa":4650,"qb":4640},{"h":88.5,"a":21.55,"b":22.3,"qa":0,"qb":0},{"h":88.75,"a":22.5,"b":23,"qa":4580,"qb":4550},{"h":89,"a":21.5,"b":22.5,"qa":0,"qb":0},{"h":89.25,"a":22.7,"b":23.2,"qa":4610,"qb":4700},{"h":89.5,"a":21.45,"b":22.35,"qa":0,"qb":0},{"h":89.75,"a":22.6,"b":23.1,"qa":4540,"qb":4600},
{"h":90,"a":21.55,"b":22.45,"qa":0,"qb":0},{"h":90.25,"a":22.55,"b":23.05,"qa":4560,"qb":4520},{"h":90.5,"a":21.5,"b":22.4,"qa":0,"qb":0},{"h":90.75,"a":22.65,"b":23.3,"qa":4620,"qb":4680},{"h":91,"a":21.45,"b":22.3,"qa":0,"qb":0},{"h":91.25,"a":22.7,"b":22.9,"qa":4500,"qb":4570},{"h":91.5,"a":21.6,"b":22.5,"qa":0,"qb":0},{"h":91.75,"a":22.6,"b":23.2,"qa":4650,"qb":4640},{"h":92,"a":21.5,"b":22.35,"qa":0,"qb":0},{"h":92.25,"a":22.75,"b":23,"qa":4580,"qb":4550},{"h":92.5,"a":21.4,"b":22.45,"qa":0,"qb":0},{"h":92.75,"a":22.5,"b":23.3,"qa":4610,"qb":4700},
{"h":93,"a":21.55,"b":22.4,"qa":0,"qb":0},{"h":93.25,"a":22.7,"b":23.1,"qa":4540,"qb":4600},{"h":93.5,"a":21.5,"b":22.3,"qa":0,"qb":0},{"h":93.75,"a":22.6,"b":23.2,"qa":4560,"qb":4520},{"h":94,"a":21.45,"b":22.5,"qa":0,"qb":0},{"h":94.25,"a":22.55,"b":23.05,"qa":4620,"qb":4680},{"h":94.5,"a":21.55,"b":22.35,"qa":0,"qb":0},{"h":94.75,"a":22.65,"b":23.3,"qa":4500,"qb":4570},{"h":95,"a":21.5,"b":22.45,"qa":0,"qb":0},{"h":95.25,"a":22.7,"b":23,"qa":4650,"qb":4640},{"h":95.5,"a":21.6,"b":22.4,"qa":0,"qb":0},{"h":95.75,"a":22.6,"b":23.2,"qa":4580,"qb":4550},
{"h":96,"a":21.5,"b":22.6,"qa":0,"qb":4900},{"h":96.25,"a":22.7,"b":23.1,"qa":4580,"qb":5000},{"h":96.5,"a":21.45,"b":22.7,"qa":0,"qb":4800},{"h":96.75,"a":22.6,"b":23,"qa":4560,"qb":4950},{"h":97,"a":21.55,"b":22.1,"qa":0,"qb":4700},{"h":97.25,"a":22.65,"b":21.8,"qa":4590,"qb":4700},{"h":97.5,"a":21.5,"b":21.5,"qa":0,"qb":0},{"h":97.75,"a":22.6,"b":21.2,"qa":4580,"qb":0},{"h":98,"a":21.45,"b":20.9,"qa":0,"qb":0},{"h":98.25,"a":22.7,"b":20.6,"qa":4600,"qb":0},{"h":98.5,"a":21.55,"b":20.4,"qa":0,"qb":0},{"h":98.75,"a":22.55,"b":20.1,"qa":4570,"qb":0},
{"h":99,"a":21.5,"b":19.9,"qa":0,"qb":0},{"h":99.25,"a":22.65,"b":19.7,"qa":4590,"qb":0},{"h":99.5,"a":21.6,"b":19.5,"qa":0,"qb":0},{"h":99.75,"a":22.6,"b":19.3,"qa":4580,"qb":0},{"h":100,"a":21.45,"b":19.1,"qa":0,"qb":0},{"h":100.25,"a":22.7,"b":18.85,"qa":4560,"qb":0},{"h":100.5,"a":21.5,"b":18.6,"qa":0,"qb":0},{"h":100.75,"a":22.55,"b":18.4,"qa":4600,"qb":0},{"h":101,"a":21.55,"b":18.1,"qa":0,"qb":0},{"h":101.25,"a":22.7,"b":17.9,"qa":4580,"qb":0},{"h":101.5,"a":21.5,"b":17.6,"qa":0,"qb":0},{"h":101.75,"a":22.6,"b":17.35,"qa":4570,"qb":0},
{"h":102,"a":21.45,"b":17.1,"qa":0,"qb":0},{"h":102.25,"a":22.65,"b":16.9,"qa":4590,"qb":0},{"h":102.5,"a":21.55,"b":16.75,"qa":0,"qb":0},{"h":102.75,"a":22.75,"b":16.6,"qa":4580,"qb":0},{"h":103,"a":21.5,"b":16.4,"qa":0,"qb":0},{"h":103.25,"a":22.6,"b":16.25,"qa":4600,"qb":0},{"h":103.5,"a":21.45,"b":16.1,"qa":0,"qb":0},{"h":103.75,"a":22.7,"b":15.95,"qa":4560,"qb":0},{"h":104,"a":21.6,"b":15.8,"qa":0,"qb":0},{"h":104.25,"a":22.55,"b":15.65,"qa":4580,"qb":0},{"h":104.5,"a":21.5,"b":15.5,"qa":0,"qb":0},{"h":104.75,"a":22.7,"b":15.4,"qa":4590,"qb":0},
{"h":105,"a":21.45,"b":15.25,"qa":0,"qb":0},{"h":105.25,"a":22.6,"b":15.1,"qa":4570,"qb":0},{"h":105.5,"a":21.55,"b":15,"qa":0,"qb":0},{"h":105.75,"a":22.65,"b":14.85,"qa":4600,"qb":0},{"h":106,"a":21.5,"b":14.75,"qa":0,"qb":0},{"h":106.25,"a":22.6,"b":14.6,"qa":4580,"qb":0},{"h":106.5,"a":21.45,"b":14.5,"qa":0,"qb":0},{"h":106.75,"a":22.7,"b":14.4,"qa":4590,"qb":0},{"h":107,"a":21.55,"b":14.3,"qa":0,"qb":0},{"h":107.25,"a":22.55,"b":14.2,"qa":4560,"qb":0},{"h":107.5,"a":21.5,"b":14.05,"qa":0,"qb":0},{"h":107.75,"a":22.65,"b":13.95,"qa":4580,"qb":0},
{"h":108,"a":21.6,"b":13.85,"qa":0,"qb":0},{"h":108.25,"a":22.6,"b":13.75,"qa":4600,"qb":0},{"h":108.5,"a":21.45,"b":13.65,"qa":0,"qb":0},{"h":108.75,"a":22.7,"b":13.55,"qa":4570,"qb":0},{"h":109,"a":21.5,"b":13.5,"qa":0,"qb":0},{"h":109.25,"a":22.55,"b":13.4,"qa":4590,"qb":0},{"h":109.5,"a":21.55,"b":13.35,"qa":0,"qb":0},{"h":109.75,"a":22.65,"b":13.3,"qa":4580,"qb":0},{"h":110,"a":21.5,"b":13.25,"qa":0,"qb":0},{"h":110.25,"a":22.7,"b":13.2,"qa":4560,"qb":0},{"h":110.5,"a":21.45,"b":13.15,"qa":0,"qb":0},{"h":110.75,"a":22.6,"b":13.4,"qa":4600,"qb":0},
{"h":111,"a":21.55,"b":13,"qa":0,"qb":3700},{"h":111.25,"a":22.65,"b":13.3,"qa":4580,"qb":0},{"h":111.5,"a":21.5,"b":13.05,"qa":0,"qb":3650},{"h":111.75,"a":22.55,"b":13.45,"qa":4590,"qb":0},{"h":112,"a":21.6,"b":13,"qa":0,"qb":3700},{"h":112.25,"a":22.7,"b":13.35,"qa":4570,"qb":0},{"h":112.5,"a":21.45,"b":13.9,"qa":0,"qb":3100},{"h":112.75,"a":22.6,"b":13.1,"qa":4600,"qb":0},{"h":113,"a":21.5,"b":13,"qa":0,"qb":3680},{"h":113.25,"a":22.65,"b":13.4,"qa":4580,"qb":0},{"h":113.5,"a":21.55,"b":12.95,"qa":0,"qb":3720},{"h":113.75,"a":22.7,"b":13.3,"qa":4560,"qb":0},
{"h":114,"a":21.5,"b":13.05,"qa":0,"qb":2950},{"h":114.25,"a":22.55,"b":13.5,"qa":4590,"qb":0},{"h":114.5,"a":21.45,"b":13,"qa":0,"qb":3700},{"h":114.75,"a":22.65,"b":13.35,"qa":4580,"qb":0},{"h":115,"a":21.6,"b":12.95,"qa":0,"qb":3650},{"h":115.25,"a":22.6,"b":13.85,"qa":4600,"qb":0},{"h":115.5,"a":21.5,"b":13.1,"qa":0,"qb":3700},{"h":115.75,"a":22.7,"b":13.4,"qa":4570,"qb":0},{"h":116,"a":21.55,"b":13,"qa":0,"qb":3200},{"h":116.25,"a":22.55,"b":13.3,"qa":4590,"qb":0},{"h":116.5,"a":21.5,"b":13,"qa":0,"qb":3720},{"h":116.75,"a":22.65,"b":13.45,"qa":4580,"qb":0},
{"h":117,"a":21.45,"b":12.95,"qa":0,"qb":3680},{"h":117.25,"a":22.7,"b":13.3,"qa":4560,"qb":0},{"h":117.5,"a":21.6,"b":13.05,"qa":0,"qb":3700},{"h":117.75,"a":22.6,"b":13.5,"qa":4600,"qb":0},{"h":118,"a":21.5,"b":13,"qa":0,"qb":3100},{"h":118.25,"a":22.55,"b":13.35,"qa":4590,"qb":0},{"h":118.5,"a":21.55,"b":13,"qa":0,"qb":3650},{"h":118.75,"a":22.65,"b":13.4,"qa":4580,"qb":0},{"h":119,"a":21.5,"b":12.95,"qa":0,"qb":3700},{"h":119.25,"a":22.7,"b":13.3,"qa":4570,"qb":0},{"h":119.5,"a":21.45,"b":13.05,"qa":0,"qb":3680},{"h":119.75,"a":22.6,"b":13.45,"qa":4600,"qb":0},
{"h":120,"a":21.55,"b":13,"qa":0,"qb":3700}
]
},
"vconcat":[
{
"width":2653,"height":321,
"title":{"text":"Control Strategies Comparison","fontSize":36,"fontWeight":"normal","font":"DejaVu Sans","color":"black","anchor":"middle","frame":"group","offset":13,"dx":-42},
"layer":[
{"data":{"name":"ev"},"mark":{"type":"rect","fillOpacity":0.12},
"encoding":{
"x":{"field":"x0","type":"quantitative","scale":{"domain":[0,120],"nice":false,"zero":false},"axis":{"values":[0,24,48,72,96],"labels":false,"title":null}},
"x2":{"field":"x1"},
"y":{"datum":10,"type":"quantitative","scale":{"domain":[10,30],"nice":false,"zero":false},"axis":{"values":[10,15,20,25,30],"title":"Temperature (degC)"}},
"y2":{"datum":30},
"fill":{"field":"s","type":"nominal","scale":{"domain":["Pre-event","Peak Period","Post-event","Comfort Range"],"range":["#ffa500","#ff0000","#800080","#2ca02c"]},
"legend":{"title":null,"orient":"none","legendX":2670,"legendY":174,"symbolType":"M-4.6,-1.7H4.6V1.7H-4.6Z","symbolOpacity":0.2,"symbolStrokeWidth":0,"labelOffset":44}}
}},
{"data":{"name":"cf"},"mark":{"type":"rect","fillOpacity":0.22,"stroke":"#2ca02c","strokeOpacity":0.3,"strokeWidth":1.5},
"encoding":{"x":{"field":"x0","type":"quantitative"},"x2":{"field":"x1"},"y":{"field":"lo","type":"quantitative","scale":{"domain":[10,30],"nice":false,"zero":false}},"y2":{"field":"hi"},"fill":{"datum":"Comfort Range","type":"nominal"}}},
{"data":{"name":"main"},"mark":{"type":"line","strokeWidth":3,"strokeJoin":"round"},
"encoding":{"x":{"field":"h","type":"quantitative"},"y":{"field":"a","type":"quantitative","scale":{"domain":[10,30],"nice":false,"zero":false}},
"stroke":{"datum":"Ti_A","type":"nominal","scale":{"domain":["Ti_A","Ti_B","T_st","T_o","Ti_mpc"],"range":["#1f77b4","#ff7f0e","#2ca02c","#d62728","#9467bd"]},
"legend":{"title":null,"orient":"none","legendX":2670,"legendY":6,"symbolType":"M-5,0H5","symbolStrokeWidth":3}}}},
{"data":{"name":"main"},"mark":{"type":"line","strokeWidth":3,"strokeJoin":"round"},
"encoding":{"x":{"field":"h","type":"quantitative"},"y":{"field":"b","type":"quantitative","scale":{"domain":[10,30],"nice":false,"zero":false}},"stroke":{"datum":"Ti_B","type":"nominal"}}},
{"data":{"name":"tst"},"mark":{"type":"line","interpolate":"step-after","strokeWidth":3.5},
"encoding":{"x":{"field":"h","type":"quantitative"},"y":{"field":"v","type":"quantitative","scale":{"domain":[10,30],"nice":false,"zero":false}},"stroke":{"datum":"T_st","type":"nominal"}}},
{"data":{"name":"to"},"mark":{"type":"line","strokeWidth":3,"clip":true},
"encoding":{"x":{"field":"h","type":"quantitative"},"y":{"field":"v","type":"quantitative","scale":{"domain":[10,30],"nice":false,"zero":false}},"stroke":{"datum":"T_o","type":"nominal"}}},
{"data":{"name":"mpc"},"mark":{"type":"line","strokeWidth":3},
"encoding":{"x":{"field":"h","type":"quantitative"},"y":{"field":"v","type":"quantitative","scale":{"domain":[10,30],"nice":false,"zero":false}},"stroke":{"datum":"Ti_mpc","type":"nominal"}}},
{"data":{"name":"days"},"mark":{"type":"rule","color":"black","strokeDash":[5,3],"strokeWidth":1.3},
"encoding":{"x":{"field":"h","type":"quantitative"}}}
]
},
{
"width":2653,"height":321,
"layer":[
{"data":{"name":"ev"},"mark":{"type":"rect","fillOpacity":0.12},
"encoding":{
"x":{"field":"x0","type":"quantitative","scale":{"domain":[0,120],"nice":false,"zero":false},"axis":{"values":[0,24,48,72,96],"labels":false,"title":null}},
"x2":{"field":"x1"},
"y":{"datum":0,"type":"quantitative","scale":{"domain":[-285,5775],"nice":false,"zero":false},"axis":{"values":[0,1000,2000,3000,4000,5000],"format":"d","title":"Heat Flow (W)"}},
"y2":{"datum":5500},
"fill":{"field":"s","type":"nominal","scale":{"domain":["Pre-event","Peak Period","Post-event"],"range":["#ffa500","#ff0000","#800080"]},
"legend":{"title":null,"orient":"none","legendX":2670,"legendY":156,"symbolType":"M-4.6,-1.7H4.6V1.7H-4.6Z","symbolOpacity":0.2,"symbolStrokeWidth":0,"labelOffset":44}}
}},
{"data":{"name":"main"},"mark":{"type":"line","strokeWidth":5,"strokeJoin":"round"},
"encoding":{"x":{"field":"h","type":"quantitative"},"y":{"field":"qa","type":"quantitative","scale":{"domain":[-285,5775],"nice":false,"zero":false}},
"stroke":{"datum":"Qh_hp_A","type":"nominal","scale":{"domain":["Qh_hp_A","Qh_hp_B","Qh_hp_mpc"],"range":["#1f77b4","#ff7f0e","#2ca02c"]},
"legend":{"title":null,"orient":"none","legendX":2670,"legendY":56,"symbolType":"M-5,0H5","symbolStrokeWidth":3}}}},
{"data":{"name":"main"},"mark":{"type":"line","strokeWidth":6.5,"strokeJoin":"round"},
"encoding":{"x":{"field":"h","type":"quantitative"},"y":{"field":"qb","type":"quantitative","scale":{"domain":[-285,5775],"nice":false,"zero":false}},"stroke":{"datum":"Qh_hp_B","type":"nominal"}}},
{"data":{"name":"mq"},"mark":{"type":"line","strokeWidth":3.5,"interpolate":"monotone"},
"encoding":{"x":{"field":"h","type":"quantitative"},"y":{"field":"v","type":"quantitative","scale":{"domain":[-285,5775],"nice":false,"zero":false}},"stroke":{"datum":"Qh_hp_mpc","type":"nominal"}}},
{"data":{"name":"days"},"mark":{"type":"rule","color":"black","strokeDash":[5,3],"strokeWidth":1.3},
"encoding":{"x":{"field":"h","type":"quantitative"}}}
]
},
{
"width":2653,"height":321,
"layer":[
{"data":{"name":"sol"},"mark":{"type":"line","strokeWidth":3,"strokeJoin":"round"},
"encoding":{
"x":{"field":"h","type":"quantitative","scale":{"domain":[0,120],"nice":false,"zero":false},"axis":{"values":[0,24,48,72,96],"title":null,"labelPadding":5,"labelLineHeight":25,"labelExpr":"datum.value==0?['17','Dec','2021']:''+(17+datum.value/24)"}},
"y":{"field":"v","type":"quantitative","scale":{"domain":[-19,387],"nice":false,"zero":false},"axis":{"values":[0,100,200,300],"title":"Solar Irradiance (W/m2)"}},
"stroke":{"datum":"I_solar","type":"nominal","scale":{"domain":["I_solar"],"range":["#1f77b4"]},
"legend":{"title":null,"orient":"none","legendX":2670,"legendY":139,"symbolType":"M-5,0H5","symbolStrokeWidth":3,"fillColor":"white","strokeColor":"#cccccc","cornerRadius":6}}
}},
{"data":{"name":"days"},"mark":{"type":"rule","color":"black","strokeDash":[5,3],"strokeWidth":1.3},
"encoding":{"x":{"field":"h","type":"quantitative"}}}
]
}
]
}
